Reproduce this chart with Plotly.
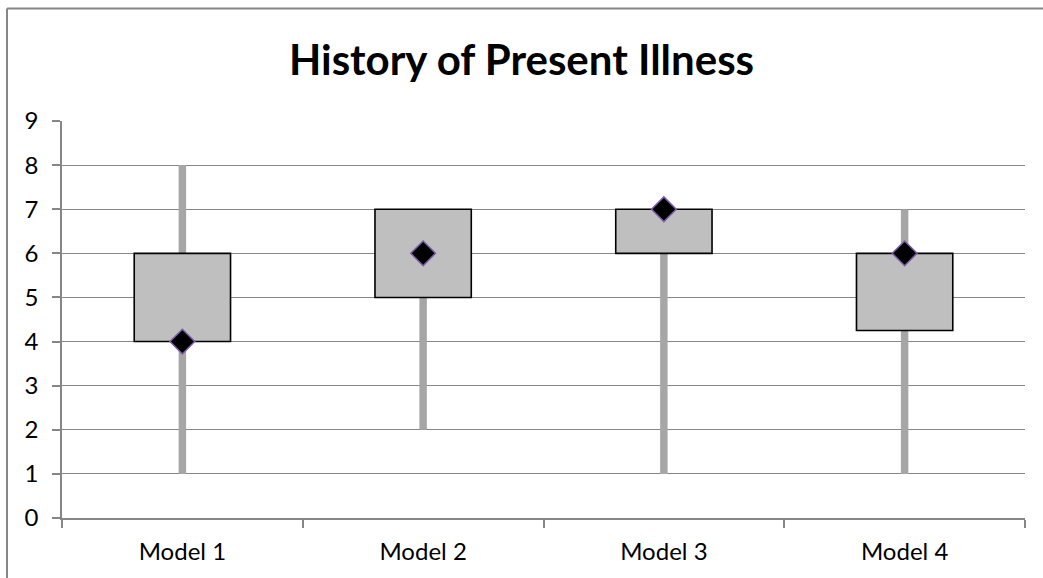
import plotly.graph_objects as go

# datos
modelos = ["Model 1", "Model 2", "Model 3", "Model 4"]
bigote_min = [1, 2, 1, 1]
bigote_max = [8, 7, 7, 7]
caja_min = [4, 5, 6, 4.25]
caja_max = [6, 7, 7, 6]
marcador = [4, 6, 7, 6]
y_ticks = [0, 1, 2, 3, 4, 5, 6, 7, 8, 9]

GRIS_LINEA = "#868686"
FUENTE = "Lato, Carlito, Calibri, sans-serif"

fig = go.Figure()

# bigotes (barras finas detrás de las cajas)
fig.add_trace(go.Bar(
    x=modelos,
    base=bigote_min,
    y=[hi - lo for lo, hi in zip(bigote_min, bigote_max)],
    width=0.031,
    marker=dict(color="#A6A6A6", line=dict(width=0)),
    name="Rango",
    hoverinfo="skip"
))

# cajas
fig.add_trace(go.Bar(
    x=modelos,
    base=caja_min,
    y=[hi - lo for lo, hi in zip(caja_min, caja_max)],
    width=0.4,
    marker=dict(color="#BFBFBF", line=dict(color="black", width=1.6)),
    name="Caja"
))

# marcador rombo
fig.add_trace(go.Scatter(
    x=modelos,
    y=marcador,
    mode="markers",
    marker=dict(symbol="diamond", size=19, color="black",
                line=dict(color="#7B5EA7", width=1.5)),
    name="Valor"
))

# borde del gráfico: sólo se ven el lado superior e izquierdo
borde_x = (7 - 62) / 963
borde_y = 1 + (121 - 8.5) / 397

fig.update_layout(
    width=1043,
    height=578,
    barmode="overlay",
    showlegend=False,
    paper_bgcolor="white",
    plot_bgcolor="white",
    margin=dict(l=62, r=18, t=121, b=60),
    font=dict(family=FUENTE, size=24, color="black"),
    title=dict(
        text="<b>History of Present Illness</b>",
        x=0.5,
        xanchor="center",
        y=1 - 60 / 578,
        yanchor="middle",
        font=dict(family=FUENTE, size=42, color="black")
    ),
    xaxis=dict(
        type="category",
        showgrid=False,
        showline=True,
        linecolor=GRIS_LINEA,
        linewidth=1.5,
        ticks="outside",
        tickson="boundaries",
        ticklen=8,
        tickcolor=GRIS_LINEA,
        tickwidth=1.5,
        ticklabelstandoff=11,
        automargin=False
    ),
    yaxis=dict(
        range=[0, 9],
        tickvals=y_ticks,
        showgrid=True,
        gridcolor=GRIS_LINEA,
        gridwidth=1.2,
        zeroline=False,
        showline=True,
        linecolor=GRIS_LINEA,
        linewidth=1.5,
        ticks="outside",
        ticklen=8,
        tickcolor=GRIS_LINEA,
        tickwidth=1.5,
        ticklabelstandoff=9,
        automargin=False
    ),
    shapes=[
        dict(type="line", xref="paper", yref="paper",
             x0=borde_x, x1=1.1, y0=borde_y, y1=borde_y,
             line=dict(color=GRIS_LINEA, width=2), layer="below"),
        dict(type="line", xref="paper", yref="paper",
             x0=borde_x, x1=borde_x, y0=-0.3, y1=borde_y,
             line=dict(color=GRIS_LINEA, width=2), layer="below"),
    ]
)

# quitar el margen por defecto del body para que no se desplace
fig.write_html(
    "out.html",
    config={"displayModeBar": False},
    post_script="document.body.style.margin='0';"
)
